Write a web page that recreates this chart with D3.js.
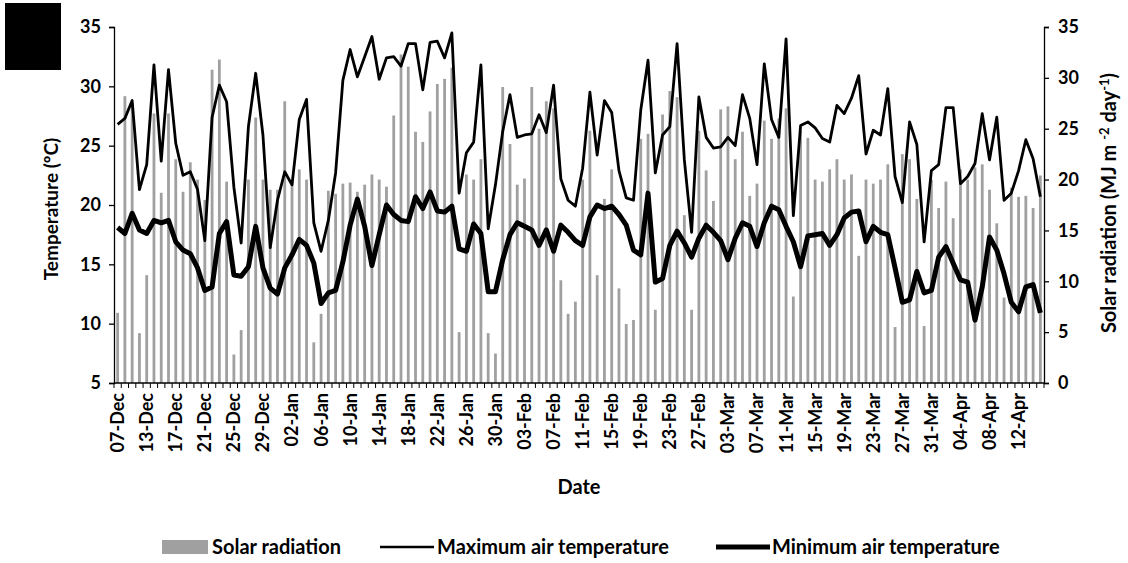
<!DOCTYPE html>
<html>
<head>
<meta charset="utf-8">
<script src="https://cdn.jsdelivr.net/npm/d3@7"></script>
<style>
  body { margin: 0; background: #fff; }
  svg text { font-family: Lato, "Open Sans", sans-serif; font-weight: bold; fill: #000; }
</style>
</head>
<body>
<div id="chart"></div>
<script>
// Daily series, 07-Dec to 15-Apr (08/09-Dec missing in the record)
const firstDay = ["07-Dec"];
const tmax = [26.8,27.3,28.8,21.3,23.4,31.8,23.7,31.4,25.2,22.5,22.8,21.3,17.0,27.4,30.1,28.7,
  21.5,16.8,26.6,31.1,25.9,16.4,20.4,22.8,21.7,27.2,28.9,18.5,16.1,18.7,22.7,30.5,
  33.1,30.8,32.5,34.2,30.6,32.4,32.5,31.7,33.6,33.6,29.7,33.7,33.8,32.4,34.5,21.0,
  24.4,25.3,31.8,18.0,21.7,26.2,29.3,25.7,25.9,26.0,27.6,26.1,30.1,22.2,20.4,19.9,
  23.1,29.5,24.2,28.8,27.8,22.9,20.6,20.4,28.0,32.2,22.7,25.9,26.6,33.6,23.8,17.7,
  29.1,25.7,24.8,24.9,25.7,25.0,29.3,27.3,23.4,31.9,27.2,25.7,34.0,19.1,26.7,27.0,
  26.5,25.6,25.3,28.4,27.7,29.0,30.9,24.3,26.3,25.9,29.8,22.4,20.2,27.0,25.1,16.9,
  22.9,23.4,28.2,28.2,21.8,22.4,23.5,27.7,23.8,27.4,20.4,21.0,22.9,25.5,23.9,20.7];
const tmin = [18.1,17.6,19.3,17.9,17.6,18.7,18.5,18.7,16.9,16.2,15.9,14.7,12.8,13.1,17.6,18.6,
  14.1,14.0,14.8,18.2,14.7,13.0,12.5,14.7,15.8,17.1,16.6,15.1,11.7,12.6,12.8,15.2,
  18.3,20.5,18.2,14.9,17.5,20.0,19.2,18.7,18.6,20.7,19.7,21.1,19.5,19.4,19.9,16.3,
  16.1,18.4,17.6,12.7,12.7,15.4,17.5,18.5,18.2,17.9,16.6,17.9,16.1,18.3,17.7,17.0,
  16.6,19.0,20.0,19.7,19.9,19.2,18.3,16.2,15.8,21.0,13.5,13.8,16.6,17.8,16.8,15.6,
  17.2,18.3,17.7,17.0,15.4,17.2,18.5,18.2,16.5,18.5,19.9,19.6,18.2,16.9,14.8,17.4,
  17.5,17.6,16.6,17.5,18.9,19.4,19.5,16.9,18.2,17.7,17.5,14.7,11.8,12.0,14.4,12.6,
  12.8,15.6,16.5,15.1,13.7,13.5,10.3,13.1,17.3,16.2,14.2,11.8,11.0,13.1,13.3,10.9];
const solar = [6.9,28.2,27.5,4.9,10.6,26.5,18.7,26.5,22,18.8,21.7,20,18,30.8,31.8,19.8,
  2.8,5.2,20,26.1,20,19,19,27.7,20,21,20,4.0,6.8,18.9,18.6,19.6,
  19.7,18.8,19.5,20.5,20.0,19.3,26.3,32.3,31.1,24.7,23.7,26.7,29.4,29.9,31,5.0,
  20.5,20,22,4.9,2.9,29.1,23.5,19.5,20.1,29.1,25,27.7,27,10.1,6.8,8.0,
  20,24.8,10.6,18.1,21,9.3,5.8,6.2,24,24.5,7.2,26.4,28.7,28.1,16.5,7.2,
  24.8,20.9,17.9,26.9,27.2,22,24.7,18.4,19.6,25.8,24,26,27,8.5,24.8,24.1,
  20.0,19.8,21,22,20.0,20.5,12.5,20,19.6,20,21.5,5.5,22.5,22,18.1,5.6,
  20,17.2,19.8,16.2,21,20,21.2,21.5,19.0,15.7,8.4,19.2,18.3,18.4,17.2,20.4];
const tempTicks = [5, 10, 15, 20, 25, 30, 35];
const solarTicks = [0, 5, 10, 15, 20, 25, 30, 35];

const fmt = d3.timeFormat("%d-%b");
const days = firstDay.concat(
  d3.timeDay.range(new Date(2014, 11, 10), new Date(2015, 3, 16)).map(fmt));

const width = 1128, height = 563;
const marginLeft = 114, marginRight = 84, marginTop = 27, plotBottom = 383;

const svg = d3.select("#chart").append("svg")
  .attr("width", width).attr("height", height);

const x = d3.scaleBand().domain(days).range([marginLeft, width - marginRight]);
const yT = d3.scaleLinear().domain([5, 35]).range([plotBottom, marginTop]);
const yS = d3.scaleLinear().domain([0, 35]).range([plotBottom, marginTop]);
const cx = d => x(d) + x.bandwidth() / 2;

// redaction block top-left
svg.append("rect").attr("x", 5).attr("y", 3).attr("width", 56).attr("height", 67).attr("fill", "#000");

// solar bars
svg.append("g").selectAll("rect").data(solar).join("rect")
  .attr("x", (d, i) => cx(days[i]) - 1.4)
  .attr("width", 2.8)
  .attr("y", d => yS(d))
  .attr("height", d => plotBottom - yS(d))
  .attr("fill", "#a0a0a0");

// temperature lines
const line = arr => d3.line().x((d, i) => cx(days[i])).y(d => yT(d))(arr);
svg.append("path").attr("d", line(tmax)).attr("fill", "none")
  .attr("stroke", "#000").attr("stroke-width", 2.8).attr("stroke-linejoin", "round");
svg.append("path").attr("d", line(tmin)).attr("fill", "none")
  .attr("stroke", "#000").attr("stroke-width", 5).attr("stroke-linejoin", "round");

// left axis
const gl = svg.append("g").attr("transform", `translate(${marginLeft},0)`)
  .call(d3.axisLeft(yT).tickValues(tempTicks).tickSize(5).tickPadding(8));
gl.selectAll("text").attr("font-size", 18);

// right axis
const gr = svg.append("g").attr("transform", `translate(${width - marginRight},0)`)
  .call(d3.axisRight(yS).tickValues(solarTicks).tickSize(5).tickPadding(9));
gr.selectAll("text").attr("font-size", 18);
svg.selectAll(".domain").attr("stroke", "#000").attr("stroke-width", 1.3);
svg.selectAll(".tick line").attr("stroke", "#000").attr("stroke-width", 1.3);

// x axis: line, small ticks at category boundaries, labels every 4th day
const gx = svg.append("g");
gx.append("line").attr("x1", marginLeft).attr("x2", width - marginRight)
  .attr("y1", plotBottom).attr("y2", plotBottom).attr("stroke", "#000").attr("stroke-width", 1.3);
gx.selectAll("line.t").data(days.concat(["end"])).join("line").attr("class", "t")
  .attr("x1", (d, i) => i < days.length ? x(d) : width - marginRight)
  .attr("x2", (d, i) => i < days.length ? x(d) : width - marginRight)
  .attr("y1", plotBottom).attr("y2", plotBottom + 5)
  .attr("stroke", "#000").attr("stroke-width", 1);
gx.selectAll("text").data(days.filter((d, i) => i % 4 === 0)).join("text")
  .attr("transform", d => `translate(${cx(d)},${plotBottom + 10}) rotate(-90)`)
  .attr("text-anchor", "end").attr("dy", "0.36em").attr("font-size", 18)
  .text(d => d);

// axis titles
svg.append("text").attr("transform", `translate(58,209) rotate(-90)`)
  .attr("text-anchor", "middle").attr("font-size", 19).text("Temperature (ºC)");
const rt = svg.append("text").attr("transform", `translate(1116,203) rotate(-90)`)
  .attr("text-anchor", "middle").attr("font-size", 20);
rt.append("tspan").text("Solar radiation (MJ m ");
rt.append("tspan").attr("font-size", 13).attr("dy", -7).text("-2");
rt.append("tspan").attr("dy", 7).text(" day");
rt.append("tspan").attr("font-size", 13).attr("dy", -7).text("-1");
rt.append("tspan").attr("dy", 7).text(")");
svg.append("text").attr("x", 579).attr("y", 494).attr("text-anchor", "middle")
  .attr("font-size", 20).text("Date");

// legend
const lg = svg.append("g").attr("transform", "translate(0,547)");
lg.append("rect").attr("x", 162).attr("y", -7).attr("width", 46).attr("height", 14).attr("fill", "#a0a0a0");
lg.append("text").attr("x", 212).attr("y", 0).attr("dy", "0.35em").attr("font-size", 20).text("Solar radiation");
lg.append("line").attr("x1", 380).attr("x2", 434).attr("y1", 0).attr("y2", 0).attr("stroke", "#000").attr("stroke-width", 2.5);
lg.append("text").attr("x", 437).attr("y", 0).attr("dy", "0.35em").attr("font-size", 20).text("Maximum air temperature");
lg.append("line").attr("x1", 716).attr("x2", 770).attr("y1", 0).attr("y2", 0).attr("stroke", "#000").attr("stroke-width", 5);
lg.append("text").attr("x", 772).attr("y", 0).attr("dy", "0.35em").attr("font-size", 20).text("Minimum air temperature");
</script>
</body>
</html>
